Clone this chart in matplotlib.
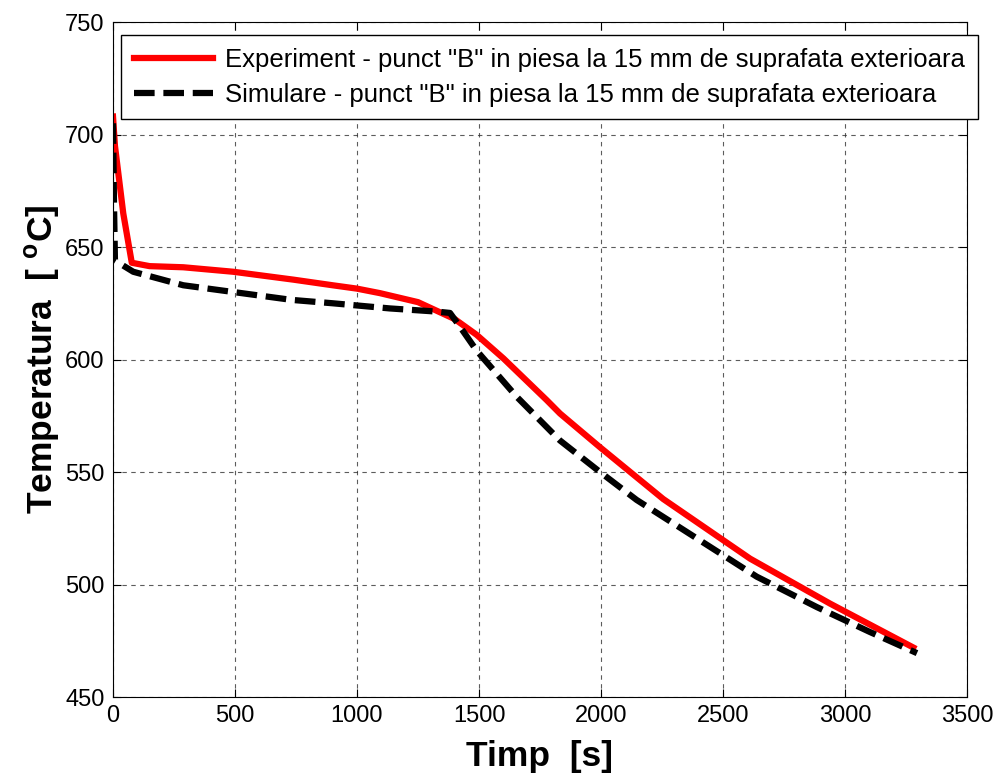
import matplotlib
matplotlib.use("Agg")
import matplotlib.pyplot as plt

plt.rcParams['font.family'] = ['Liberation Sans', 'DejaVu Sans']
plt.rcParams['mathtext.fontset'] = 'custom'
plt.rcParams['mathtext.rm'] = 'Liberation Sans:bold'
plt.rcParams['mathtext.bf'] = 'Liberation Sans:bold'

# Experiment - point B
exp_t = [0, 8, 42, 77, 150, 288, 493, 739, 900, 1000, 1094, 1250, 1400,
         1490, 1600, 1777, 1832, 1996, 2255, 2611, 2939, 3280]
exp_T = [708, 695, 665, 643, 641.5, 641, 639, 635.5, 633, 631.5, 629.5, 625.5,
         618, 611, 600.5, 582, 576, 561, 538, 511.5, 491.5, 472]

# Simulation - point B
sim_t = [0, 4, 8, 83, 288, 493, 732, 900, 1135, 1327, 1381, 1422, 1490,
         1654, 1832, 1996, 2146, 2400, 2638, 2884, 3100, 3295]
sim_T = [705, 670, 644, 639, 633, 630, 626.5, 625, 622.7, 621.3, 620.7, 614.6,
         604, 583.5, 564, 550, 537.6, 520, 503.5, 490, 479, 469.5]

xticks = [0, 500, 1000, 1500, 2000, 2500, 3000, 3500]
yticks = [450, 500, 550, 600, 650, 700, 750]

fig = plt.figure(figsize=(10, 7.78), dpi=100)
ax = fig.add_axes([0.113, 0.1041, 0.854, 0.8676])

ax.plot(exp_t, exp_T, color='red', lw=4.5, solid_joinstyle='round',
        label='Experiment - punct "B" in piesa la 15 mm de suprafata exterioara')
ax.plot(sim_t, sim_T, color='black', lw=4.5, dashes=(3.3, 1.4),
        label='Simulare - punct "B" in piesa la 15 mm de suprafata exterioara')

ax.set_xlim(0, 3500)
ax.set_ylim(450, 750)
ax.set_xticks(xticks)
ax.set_yticks(yticks)
ax.tick_params(direction='in', top=True, right=True, labelsize=17, length=6,
               pad=6)
ax.grid(True, color='#333333', linestyle=(0, (4, 4)), linewidth=0.8, alpha=0.8)
for s in ax.spines.values():
    s.set_linewidth(0.8)

ax.set_xlabel('Timp  [s]', fontsize=25.5, fontweight='bold', labelpad=9)
ax.set_ylabel(r'Temperatura  [ $^{\mathbf{o}}$C]', fontsize=25.5,
              fontweight='bold', labelpad=2)

leg = ax.legend(loc='upper left', bbox_to_anchor=(0.121, 1 - 35 / 778),
                bbox_transform=fig.transFigure, fontsize=18.5, fancybox=False,
                framealpha=1, edgecolor='black', handlelength=3.07,
                borderaxespad=0, borderpad=0.5, handletextpad=0.47,
                labelspacing=0.42)
leg.get_frame().set_linewidth(1.0)

fig.savefig('out.png', dpi=100)
